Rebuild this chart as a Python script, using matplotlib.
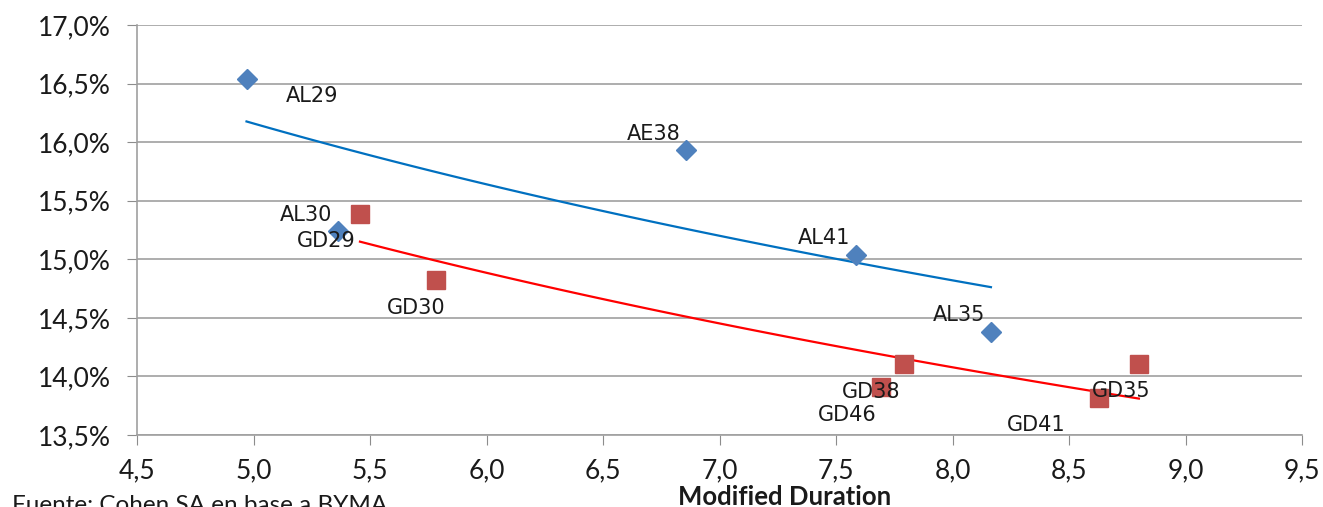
import numpy as np
import matplotlib.pyplot as plt

# bonos ley argentina (AL / AE) y ley NY (GD)
al_names = ['AL29', 'AL30', 'AE38', 'AL41', 'AL35']
al_dur = [4.97, 5.363, 6.856, 7.586, 8.165]
al_tir = [16.54, 15.24, 15.93, 15.04, 14.38]

gd_names = ['GD29', 'GD30', 'GD38', 'GD46', 'GD41', 'GD35']
gd_dur = [5.457, 5.783, 7.792, 7.693, 8.629, 8.80]
gd_tir = [15.39, 14.82, 14.105, 13.91, 13.82, 14.11]

x_ticks = np.arange(4.5, 9.51, 0.5)
y_ticks = np.arange(13.5, 17.01, 0.5)

# label offsets in points (dx, dy, ha)
al_off = {'AL29': (28, -12, 'left'), 'AL30': (-4, 12, 'right'), 'AE38': (-4, 12, 'right'),
          'AL41': (-4, 12, 'right'), 'AL35': (-4, 12, 'right')}
gd_off = {'GD29': (-3, -20, 'right'), 'GD30': (-14, -20, 'center'), 'GD38': (-24, -20, 'center'),
          'GD46': (-24, -20, 'center'), 'GD41': (-45, -20, 'center'), 'GD35': (-13, -20, 'center')}

fig = plt.figure(figsize=(13.23, 5.07), dpi=100)
ax = fig.add_axes([137/1323, 1-435/507, (1302-137)/1323, (435-25)/507])

ax.plot(al_dur, al_tir, 'D', color='#4F81BD', ms=10, zorder=3)
ax.plot(gd_dur, gd_tir, 's', color='#C0504D', ms=12.5, zorder=3)

# logarithmic trendlines, as Excel does
def log_trend(xs, ys):
    b, a = np.polyfit(np.log(xs), ys, 1)
    xx = np.linspace(min(xs), max(xs), 100)
    return xx, a + b*np.log(xx)

xx, yy = log_trend(al_dur, al_tir)
ax.plot(xx, yy, color='#0070C0', lw=1.6, zorder=2)
xx, yy = log_trend(gd_dur, gd_tir)
ax.plot(xx, yy, color='#FF0000', lw=1.6, zorder=2)

for n, x, y in zip(al_names, al_dur, al_tir):
    dx, dy, ha = al_off[n]
    ax.annotate(n, (x, y), xytext=(dx, dy), textcoords='offset points', ha=ha, va='center',
                fontsize=15, family='DejaVu Sans', color='#1a1a1a')
for n, x, y in zip(gd_names, gd_dur, gd_tir):
    dx, dy, ha = gd_off[n]
    ax.annotate(n, (x, y), xytext=(dx, dy), textcoords='offset points', ha=ha, va='center',
                fontsize=15, family='DejaVu Sans', color='#1a1a1a')

ax.set_xlim(4.5, 9.5)
ax.set_ylim(13.5, 17.0)
ax.set_xticks(x_ticks)
ax.set_yticks(y_ticks)
ax.set_xticklabels([f'{v:.1f}'.replace('.', ',') for v in x_ticks])
ax.set_yticklabels([f'{v:.1f}%'.replace('.', ',') for v in y_ticks])
ax.tick_params(axis='both', colors='#8c8c8c', labelcolor='#1a1a1a', labelsize=19, length=7)
ax.tick_params(axis='x', pad=10)
ax.tick_params(axis='y', pad=12)
for lab in ax.get_xticklabels() + ax.get_yticklabels():
    lab.set_family('Lato')

ax.grid(axis='y', color='#a0a0a0', lw=1.2)
ax.set_axisbelow(True)
for s in ['top', 'right']:
    ax.spines[s].set_visible(False)
for s in ['left', 'bottom']:
    ax.spines[s].set_color('#a0a0a0')
    ax.spines[s].set_linewidth(1.2)

fig.text(785/1323, 1-485/507, 'Modified Duration', ha='center', va='top', fontsize=18.5,
         family='Lato', weight='bold', color='#1a1a1a')
fig.text(12/1323, 1-495/507, 'Fuente: Cohen SA en base a BYMA', ha='left', va='top', fontsize=17.5,
         family='Lato', color='#1a1a1a')

fig.savefig('out.png', dpi=100)
